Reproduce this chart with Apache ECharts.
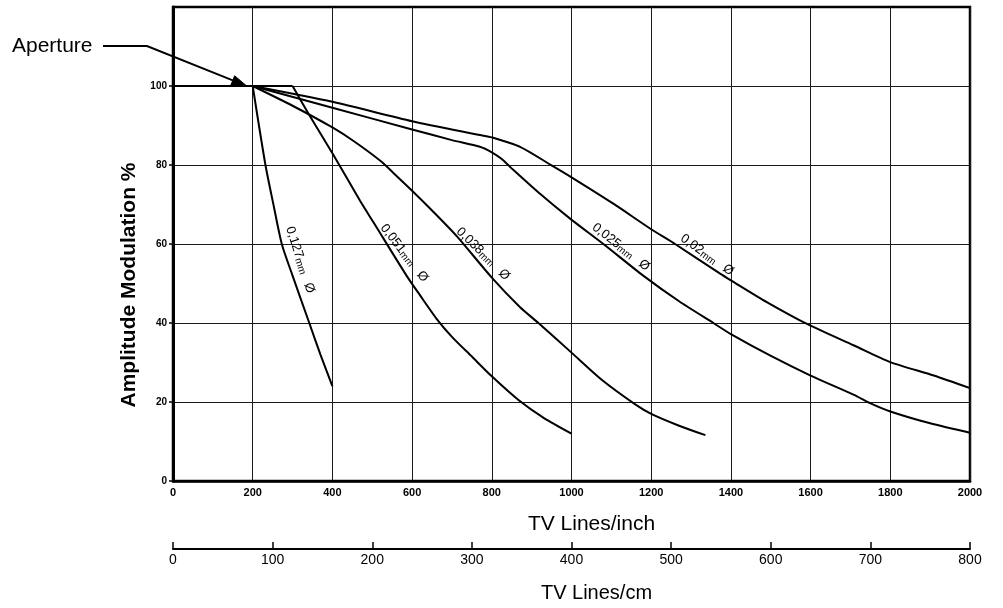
<!DOCTYPE html>
<html>
<head>
<meta charset="utf-8">
<script src="https://cdn.jsdelivr.net/npm/echarts@6/dist/echarts.min.js"></script>
<style>
html,body{margin:0;padding:0;background:#fff;}
#chart{width:1003px;height:608px;}
</style>
</head>
<body>
<div id="chart"></div>
<script>
// ---- data (x = TV lines/inch, y = amplitude modulation %) ----
const apertureLine = [[0,100],[200,100]];
const curve127 = [[200,100],[232,80],[252,70],[273,60],[300,52],[342,40],[370,32],[400,24]];
const curve051Flat = [[200,100],[300,100]];
const curve051 = [[300,100],[340,93],[400,83],[469,71],[503,65.5],[586,52],[620,47],[662,41],[700,36.5],[750,31.5],[800,26.5],[867,20.5],[930,16],[1000,12]];
const curve038 = [[200,100],[300,95],[400,89.5],[454,86],[521,81],[553,78],[600,73.5],[650,68.5],[712,62],[800,51.5],[871,44],[917,40],[1000,32.5],[1075,25.7],[1160,19.4],[1200,17],[1270,14],[1336,11.6]];
const curve025 = [[200,100],[400,94.5],[600,89],[700,86.3],[770,84.6],[800,83.2],[825,81.5],[846,79.5],[921,72.7],[998,66.3],[1080,60],[1180,52],[1270,45.5],[1356,40],[1400,37.2],[1498,31.8],[1600,26.7],[1709,21.8],[1749,19.7],[1800,17.6],[1900,14.6],[2000,12.2]];
const curve02  = [[200,100],[400,96],[600,91.1],[770,87.6],[800,87],[871,84.6],[950,79.9],[998,77],[1105,70.2],[1199,63.8],[1260,60],[1373,52.5],[1400,50.8],[1490,45.3],[1596,39.5],[1709,34.3],[1800,30.1],[1909,26.7],[2000,23.5]];

const curveNames = ['0,127', '0,051', '0,038', '0,025', '0,02'];

// axis ranges / ticks
const inchMax = 2000, inchStep = 200;
const cmMax = 800, cmStep = 100;
const ampMax = 120, ampStep = 20;
const ampTicks = [0, 20, 40, 60, 80, 100];

// curve label anchors (data coords) and rotation (deg)
const labelAnchors = [[319, 56], [580, 57.7], [778, 57.5], [1124, 59.2], [1340, 57.2]];
const labelAngles = [-72, -52, -44.5, -38, -35.5];

const FONT = "'Liberation Sans', Arial, Helvetica, sans-serif";
const chart = echarts.init(document.getElementById('chart'), null, {renderer: 'canvas'});

function lineSeries(name, data, smooth) {
  return {
    name: name, type: 'line', data: data,
    showSymbol: false, symbol: 'none', smooth: smooth,
    lineStyle: {color: '#000', width: 2}, silent: true, z: 5
  };
}
const series = [
  lineSeries('aperture', apertureLine, false),
  lineSeries(curveNames[0] + 'mm', curve127, 0.25),
  lineSeries(curveNames[1] + 'mm flat', curve051Flat, false),
  lineSeries(curveNames[1] + 'mm', curve051, 0.25),
  lineSeries(curveNames[2] + 'mm', curve038, 0.25),
  lineSeries(curveNames[3] + 'mm', curve025, 0.25),
  lineSeries(curveNames[4] + 'mm', curve02, 0.25)
];

const option = {
  backgroundColor: '#fff',
  animation: false,
  grid: {left: 173, right: 33, top: 7, bottom: 127, show: true, borderColor: '#000', borderWidth: 2.5, containLabel: false},
  xAxis: [
    {
      type: 'value', min: 0, max: inchMax, interval: inchStep, position: 'bottom',
      axisLine: {show: true, onZero: false, lineStyle: {color: '#000', width: 2.5}},
      axisTick: {show: false},
      axisLabel: {color: '#000', fontFamily: FONT, fontWeight: 'bold', fontSize: 11, margin: 6, formatter: v => String(v)},
      splitLine: {show: true, lineStyle: {color: '#1a1a1a', width: 1}},
      name: 'TV Lines/inch', nameLocation: 'middle', nameGap: 33,
      nameTextStyle: {color: '#000', fontFamily: FONT, fontSize: 21, padding: [0, 0, 0, 40]}
    },
    {
      type: 'value', min: 0, max: cmMax, interval: cmStep, position: 'bottom', offset: 68,
      axisLine: {show: true, onZero: false, lineStyle: {color: '#000', width: 2}},
      axisTick: {show: true, inside: true, length: 7, lineStyle: {color: '#000', width: 1.5}},
      axisLabel: {color: '#000', fontFamily: "'Liberation Sans Narrow', 'Liberation Sans', Arial, sans-serif", fontSize: 14, margin: 4, formatter: v => String(v)},
      splitLine: {show: false},
      name: 'TV Lines/cm', nameLocation: 'middle', nameGap: 34,
      nameTextStyle: {color: '#000', fontFamily: FONT, fontSize: 20, padding: [0, 0, 0, 50]}
    }
  ],
  yAxis: {
    type: 'value', min: 0, max: ampMax, interval: ampStep,
    axisLine: {show: true, onZero: false, lineStyle: {color: '#000', width: 3}},
    axisTick: {show: true, length: 4, customValues: ampTicks, lineStyle: {color: '#000', width: 1.5}},
    axisLabel: {color: '#000', fontFamily: FONT, fontWeight: 'bold', fontSize: 10, margin: 6,
      customValues: ampTicks, formatter: v => String(v)},
    splitLine: {show: true, lineStyle: {color: '#1a1a1a', width: 1}},
    name: 'Amplitude Modulation %', nameLocation: 'middle', nameGap: 31,
    nameTextStyle: {color: '#000', fontFamily: FONT, fontWeight: 'bold', fontSize: 21, padding: [0, 82, 0, 0]}
  },
  series: series
};
chart.setOption(option);

// annotations: curve labels & aperture arrow
const graphics = [];
labelAnchors.forEach((a, i) => {
  const p = chart.convertToPixel({xAxisIndex: 0, yAxisIndex: 0}, a);
  graphics.push({
    type: 'text', x: p[0], y: p[1], rotation: labelAngles[i] * Math.PI / 180, z: 10,
    style: {
      text: '{n|' + curveNames[i] + '}{u|mm}   {n|Ø}',
      align: 'center', verticalAlign: 'middle', fill: '#000',
      rich: {
        n: {fontFamily: FONT, fontSize: 13, fill: '#000', color: '#000'},
        u: {fontFamily: FONT, fontSize: 10, fill: '#000', color: '#000', padding: [4, 0, 0, 0]}
      }
    }
  });
});
const tipBase = chart.convertToPixel({xAxisIndex: 0, yAxisIndex: 0}, [200, 100]);
const tip = [tipBase[0] - 6, tipBase[1]];
const elbow = [147, 46];
const ang = Math.atan2(tip[1] - elbow[1], tip[0] - elbow[0]);
const L = 15, W = 5;
const back = [tip[0] - L * Math.cos(ang), tip[1] - L * Math.sin(ang)];
graphics.push({
  type: 'polyline', z: 10,
  shape: {points: [[103, 46], elbow, back]},
  style: {stroke: '#000', lineWidth: 2, fill: null}
});
graphics.push({
  type: 'polygon', z: 10,
  shape: {points: [tip,
    [back[0] + W * Math.sin(ang), back[1] - W * Math.cos(ang)],
    [back[0] - W * Math.sin(ang), back[1] + W * Math.cos(ang)]]},
  style: {fill: '#000', stroke: '#000', lineWidth: 1}
});
graphics.push({
  type: 'text', x: 12, y: 46, z: 10,
  style: {text: 'Aperture', fontFamily: FONT, fontSize: 21, fill: '#000', align: 'left', verticalAlign: 'middle'}
});
chart.setOption({graphic: graphics});
</script>
</body>
</html>
